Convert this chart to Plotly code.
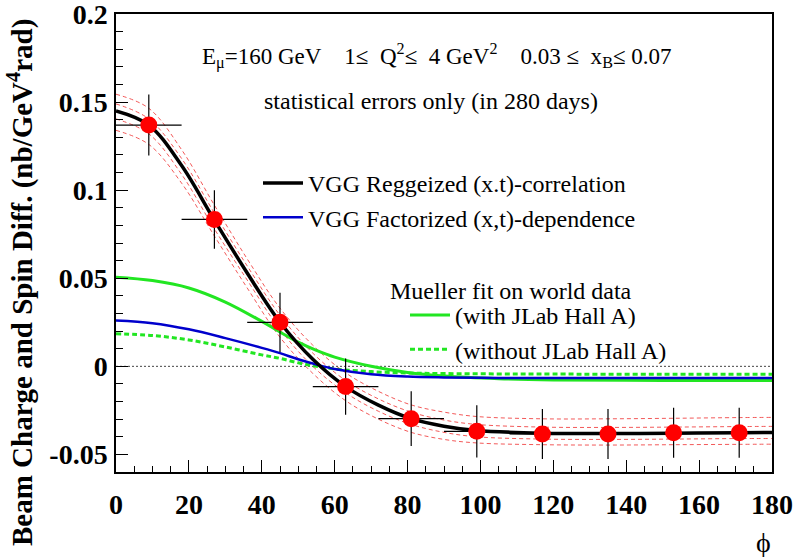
import plotly.graph_objects as go

# ---------------- data ----------------
phi_grid = [0, 9, 18, 27, 36, 45, 54, 63, 72, 81, 90, 99, 117, 135, 153, 171, 180]
vgg_regge = [0.145, 0.137, 0.114, 0.083, 0.053, 0.025, 0.004, -0.0115, -0.022,
             -0.0297, -0.034, -0.0365, -0.038, -0.0382, -0.038, -0.0377, -0.0376]
band_outer_up = [0.1545, 0.1465, 0.123, 0.0915, 0.061, 0.033, 0.012, -0.0037, -0.0142,
                 -0.0219, -0.026, -0.0285, -0.0298, -0.0298, -0.0295, -0.0291, -0.029]
band_outer_lo = [0.134, 0.126, 0.104, 0.074, 0.0445, 0.0165, -0.004, -0.0195, -0.030,
                 -0.0375, -0.0415, -0.0435, -0.0445, -0.0447, -0.0445, -0.0443, -0.0442]
band_inner_up = [0.149, 0.1405, 0.118, 0.087, 0.057, 0.029, 0.0075, -0.008, -0.0185,
                 -0.026, -0.0305, -0.033, -0.0345, -0.0347, -0.0345, -0.0342, -0.0341]
band_inner_lo = [0.1405, 0.132, 0.109, 0.078, 0.049, 0.021, 0.0, -0.015, -0.0255,
                 -0.033, -0.0375, -0.040, -0.0413, -0.0415, -0.0413, -0.041, -0.041]

phi_model = [0, 10, 20, 30, 40, 45, 50, 55, 60, 70, 80, 90, 105, 120, 150, 180]
vgg_fact = [0.026, 0.0245, 0.021, 0.016, 0.0105, 0.0075, 0.004, 0.001, -0.0015,
            -0.0045, -0.0058, -0.0063, -0.0066, -0.0066, -0.0066, -0.0066]
mueller_with = [0.0506, 0.0487, 0.0445, 0.0365, 0.0255, 0.0195, 0.0137, 0.009, 0.0052,
                0.0, -0.0035, -0.0055, -0.007, -0.0077, -0.008, -0.0081]
mueller_without = [0.0185, 0.0175, 0.015, 0.011, 0.0065, 0.0045, 0.002, 0.0, -0.0015,
                   -0.003, -0.0038, -0.0041, -0.0043, -0.0044, -0.0045, -0.0045]

phi_points = [9, 27, 45, 63, 81, 99, 117, 135, 153, 171]
asym_points = [0.137, 0.0834, 0.025, -0.0115, -0.0297, -0.0369, -0.0384, -0.0384, -0.0377, -0.0377]
asym_err = [0.0173, 0.0166, 0.0168, 0.016, 0.0155, 0.0148, 0.0142, 0.0142, 0.0142, 0.0142]
phi_halfbin = [9, 9, 9, 9, 9, 9, 9, 9, 9, 9]

x_ticks = [0, 20, 40, 60, 80, 100, 120, 140, 160, 180]
y_ticks = [-0.05, 0, 0.05, 0.1, 0.15, 0.2]
y_ticklabels = ["-0.05", "0", "0.05", "0.1", "0.15", "0.2"]

# ---------------- layout helpers (pixel -> paper) ----------------
L, R, T, B = 116, 772, 14, 472
W, H = 796, 557
def px(x):
    return (x - L) / (R - L)
def py(y):
    return (B - y) / (B - T)

SERIF = "Liberation Serif, Times New Roman, serif"
fig = go.Figure()

red_dash = dict(color="rgba(240,60,60,0.85)", width=1, dash="4px,3px")
for band in (band_outer_up, band_outer_lo, band_inner_up, band_inner_lo):
    fig.add_trace(go.Scatter(x=phi_grid, y=band, mode="lines", line=dict(shape="spline", **red_dash),
                             showlegend=False, hoverinfo="skip"))

fig.add_trace(go.Scatter(x=[0, 180], y=[0, 0], mode="lines",
                         line=dict(color="#444444", width=1, dash="2px,2px"),
                         showlegend=False, hoverinfo="skip"))

fig.add_trace(go.Scatter(x=phi_model, y=mueller_with, mode="lines", name="(with JLab Hall A)",
                         line=dict(color="#22e622", width=3, shape="spline"),
                         legend="legend2", legendrank=1))
fig.add_trace(go.Scatter(x=phi_model, y=mueller_without, mode="lines", name="(without JLab Hall A)",
                         line=dict(color="#22e622", width=3, dash="5px,3px", shape="spline"),
                         legend="legend2", legendrank=2))
fig.add_trace(go.Scatter(x=phi_model, y=vgg_fact, mode="lines", name="VGG Factorized (x,t)-dependence",
                         line=dict(color="#0000cc", width=2.5, shape="spline"),
                         legend="legend", legendrank=2))
fig.add_trace(go.Scatter(x=phi_grid, y=vgg_regge, mode="lines", name="VGG Reggeized (x.t)-correlation",
                         line=dict(color="#000000", width=3.5, shape="spline"),
                         legend="legend", legendrank=1))

fig.add_trace(go.Scatter(x=phi_points, y=asym_points, mode="markers",
                         marker=dict(color="#ff0000", size=17, line=dict(width=0)),
                         error_y=dict(type="data", array=asym_err, width=0, thickness=1.2, color="black"),
                         error_x=dict(type="data", array=phi_halfbin, width=0, thickness=1.2, color="black"),
                         showlegend=False))

axis_common = dict(showline=True, linecolor="black", linewidth=1.5, mirror=True,
                   ticks="inside", ticklen=12, tickwidth=1.2, tickcolor="black",
                   showgrid=False, zeroline=False, ticklabeloverflow="allow", automargin=False,
                   tickfont=dict(family=SERIF, size=28, color="black", weight="bold"))

fig.update_layout(
    width=W, height=H,
    margin=dict(l=L, r=W - R, t=T, b=H - B, autoexpand=False),
    paper_bgcolor="white", plot_bgcolor="white",
    xaxis=dict(range=[0, 180], tickvals=x_ticks, ticklabelstandoff=7,
               minor=dict(ticks="inside", dtick=5, ticklen=6, tickcolor="black", tickwidth=1),
               **axis_common),
    yaxis=dict(range=[-0.06, 0.20005], tickvals=y_ticks, ticktext=y_ticklabels, ticklabelstandoff=1,
               minor=dict(ticks="inside", dtick=0.01, ticklen=7, tickcolor="black", tickwidth=1),
               **axis_common),
    legend=dict(x=px(258), y=py(161), xanchor="left", yanchor="top", bgcolor="rgba(0,0,0,0)",
                font=dict(family=SERIF, size=24, color="black"), itemwidth=40,
                traceorder="normal", tracegroupgap=0),
    legend2=dict(x=px(405), y=py(293), xanchor="left", yanchor="top", bgcolor="rgba(0,0,0,0)",
                 font=dict(family=SERIF, size=24, color="black"), itemwidth=40,
                 traceorder="normal", tracegroupgap=0),
    showlegend=True,
)

ann_font = dict(family=SERIF, size=24, color="black")
NB = "\u00a0"
top_line = ("E<sub>μ</sub>=160 GeV" + NB * 4 + "1≤" + NB * 2 + "Q<sup>2</sup>≤" + NB * 2 + "4 GeV<sup>2</sup>"
            + NB * 4 + "0.03 ≤" + NB * 2 + "x<sub>B</sub>≤ 0.07")
fig.add_annotation(text=top_line, x=px(437), y=py(56), xref="paper", yref="paper",
                   xanchor="center", yanchor="middle", showarrow=False,
                   font=dict(family=SERIF, size=23, color="black"))
anns = [
    ("statistical errors only (in 280 days)", 262, 101),
    ("Mueller fit on world data", 388, 291),
]
for text, x, y in anns:
    fig.add_annotation(text=text, x=px(x), y=py(y), xref="paper", yref="paper",
                       xanchor="left", yanchor="middle", showarrow=False, font=ann_font)

fig.add_annotation(text="<b>Beam Charge and Spin Diff. (nb/GeV<sup>4</sup>rad)</b>",
                   x=px(20), y=py(283), xref="paper", yref="paper", textangle=-90,
                   xanchor="center", yanchor="middle", showarrow=False,
                   font=dict(family=SERIF, size=29, color="black"))
fig.add_annotation(text="ϕ", x=px(763), y=py(542), xref="paper", yref="paper",
                   xanchor="center", yanchor="middle", showarrow=False,
                   font=dict(family=SERIF, size=28, color="black"))

fig.write_html("out.html", config={"displayModeBar": False},
               post_script="document.body.style.margin='0px';document.body.style.padding='0px';")
